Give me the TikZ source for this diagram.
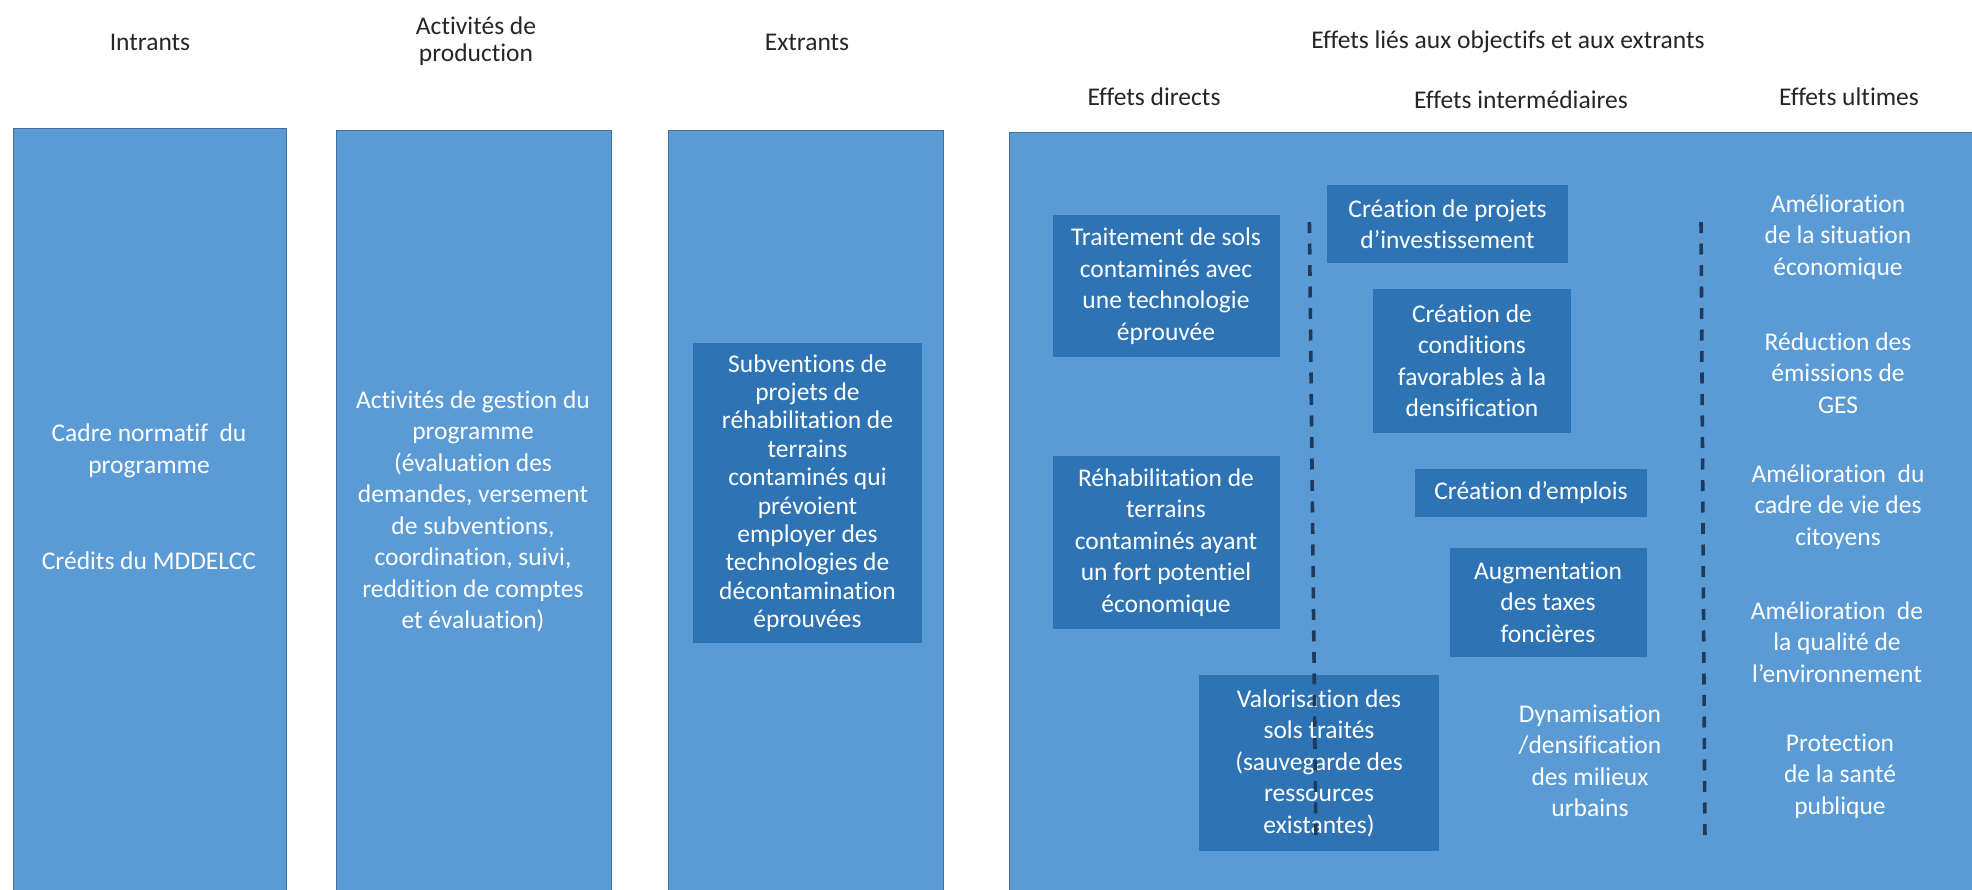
\documentclass[tikz,border=0pt]{standalone}
\usepackage{fontspec}
\setmainfont{Carlito}[RawFeature={-liga}]
\definecolor{light}{HTML}{5B9BD5}
\definecolor{dark}{HTML}{2E74B5}
\definecolor{edge}{HTML}{41719C}
\definecolor{dashc}{HTML}{1F3A5A}
\definecolor{txt}{HTML}{262626}
\begin{document}
\begin{tikzpicture}[x=1pt,y=-1pt,
  every node/.style={font=\fontsize{25.5}{31.5}\selectfont, align=center, inner sep=0pt},
  bigbox/.style={draw=edge, line width=1.2pt, fill=light, anchor=north west},
  darkbox/.style={fill=dark, text=white},
  wtext/.style={text=white},
  title/.style={text=txt},
  sep/.style={draw=dashc, line width=3.6pt, dash pattern=on 11pt off 10.5pt}
]
\useasboundingbox (0,0) rectangle (1972,889);
\clip (0,0) rectangle (1972,889);
\fill[white] (0,0) rectangle (1972,889);

% big boxes
\node[bigbox, minimum width=273pt, minimum height=780pt] (bIn) at (13,128) {};
\node[bigbox, minimum width=275pt, minimum height=780pt] (bAct) at (336,130) {};
\node[bigbox, minimum width=275pt, minimum height=780pt] (bEx) at (668,130) {};
\node[bigbox, minimum width=980pt, minimum height=780pt] (bEff) at (1009,132) {};

% titles
\node[title] (tIn) at (150,42) {Intrants};
\node[title, font=\fontsize{25.5}{27}\selectfont] (tAct) at (476,41) {Activités de\\production};
\node[title] (tEx) at (807,42) {Extrants};
\node[title] (tEff) at (1508,42) {Effets liés aux objectifs et aux extrants};
\node[title] (tDir) at (1154,97) {Effets directs};
\node[title] (tInt) at (1521,100) {Effets intermédiaires};
\node[title] (tUlt) at (1849,97) {Effets ultimes};

% box 1
\node[wtext] (cadre) at (149,451) {Cadre normatif\ \ du\\programme};
\node[wtext] (credits) at (149,561) {Crédits du MDDELCC};

% box 2
\node[wtext] (gestion) at (473,511.5) {Activités de gestion du\\programme\\(évaluation des\\demandes, versement\\de subventions,\\coordination, suivi,\\reddition de comptes\\et évaluation)};

% box 3
\node[darkbox, minimum width=229pt, minimum height=300pt, font=\fontsize{25.5}{28.4}\selectfont] (subv) at (807.5,493) {Subventions de\\projets de\\réhabilitation de\\terrains\\contaminés qui\\prévoient\\employer des\\technologies de\\décontamination\\éprouvées};

% effets directs
\node[darkbox, minimum width=227pt, minimum height=142pt] (trait) at (1166,286) {Traitement de sols\\contaminés avec\\une technologie\\éprouvée};
\node[darkbox, minimum width=227pt, minimum height=173pt] (rehab) at (1166,542.3) {Réhabilitation de\\terrains\\contaminés ayant\\un fort potentiel\\économique};
\node[darkbox, minimum width=240pt, minimum height=176pt] (valor) at (1319,763) {Valorisation des\\sols traités\\(sauvegarde des\\ressources\\existantes)};

% effets intermediaires
\node[darkbox, minimum width=241pt, minimum height=78pt] (projinv) at (1447.5,224) {Création de projets\\d’investissement};
\node[darkbox, minimum width=198pt, minimum height=144pt] (cond) at (1472,360.7) {Création de\\conditions\\favorables à la\\densification};
\node[darkbox, minimum width=231.5pt, minimum height=48.5pt] (emplois) at (1531,493) {Création d’emplois};
\node[darkbox, minimum width=197pt, minimum height=109pt] (taxes) at (1548,602.3) {Augmentation\\des taxes\\foncières};
\node[wtext] (dyna) at (1590,761) {Dynamisation\\/densification\\des milieux\\urbains};

% effets ultimes
\node[wtext] (u1) at (1838,237) {Amélioration\\de la situation\\économique};
\node[wtext] (u2) at (1838,373) {Réduction des\\émissions de\\GES};
\node[wtext] (u3) at (1838,507) {Amélioration\ \ du\\cadre de vie des\\citoyens};
\node[wtext] (u4) at (1837,642) {Amélioration\ \ de\\la qualité de\\l’environnement};
\node[wtext] (u5) at (1840,776) {Protection\\de la santé\\publique};

% separators
\coordinate (d1a) at (1309.4,222);
\coordinate (d1b) at (1316,845);
\coordinate (d2a) at (1701,222);
\coordinate (d2b) at (1705,843);
\draw[sep] (d1a) -- (d1b);
\draw[sep] (d2a) -- (d2b);
\end{tikzpicture}
\end{document}
